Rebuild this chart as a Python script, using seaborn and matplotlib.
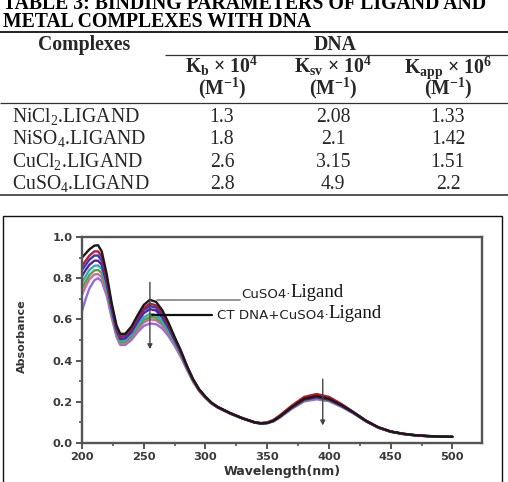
import matplotlib
matplotlib.use("Agg")
import matplotlib.pyplot as plt
import numpy as np
import pandas as pd
import seaborn as sns
from matplotlib.lines import Line2D
from matplotlib.patches import Rectangle
from matplotlib.ticker import MultipleLocator

# ---------------- table data ----------------
title_line1 = "TABLE 3: BINDING PARAMETERS OF LIGAND AND"
title_line2 = "METAL COMPLEXES WITH DNA"
complexes = ["NiCl$_2$.LIGAND", "NiSO$_4$.LIGAND", "CuCl$_2$.LIGAND", "CuSO$_4$.LIGAND"]
kb_vals = ["1.3", "1.8", "2.6", "2.8"]
ksv_vals = ["2.08", "2.1", "3.15", "4.9"]
kapp_vals = ["1.33", "1.42", "1.51", "2.2"]

# ---------------- spectra data ----------------
wavelength = [200, 203, 206, 210, 213, 216, 220, 224, 228, 231, 235, 240, 245, 250, 255,
              260, 265, 270, 275, 280, 285, 290, 295, 300, 305, 310, 320, 330, 340, 345,
              350, 355, 360, 370, 380, 390, 400, 410, 420, 430, 440, 450, 460, 470, 480,
              490, 500]
s1 = [0.90, 0.92, 0.94, 0.958, 0.96, 0.93, 0.82, 0.68, 0.57, 0.53, 0.53, 0.565, 0.62, 0.67, 0.695,
      0.685, 0.645, 0.585, 0.515, 0.45, 0.375, 0.31, 0.26, 0.225, 0.195, 0.175, 0.145, 0.12, 0.10, 0.095,
      0.097, 0.108, 0.128, 0.175, 0.215, 0.228, 0.215, 0.185, 0.148, 0.108, 0.076, 0.056, 0.045, 0.038, 0.034,
      0.031, 0.030]
s2 = [0.86, 0.885, 0.91, 0.93, 0.93, 0.905, 0.80, 0.67, 0.56, 0.52, 0.525, 0.555, 0.61, 0.655, 0.677,
      0.668, 0.632, 0.575, 0.51, 0.445, 0.372, 0.308, 0.258, 0.224, 0.195, 0.175, 0.146, 0.121, 0.101, 0.097,
      0.10, 0.112, 0.133, 0.182, 0.224, 0.238, 0.224, 0.19, 0.15, 0.109, 0.077, 0.056, 0.045, 0.038, 0.034,
      0.031, 0.030]
s3 = [0.84, 0.865, 0.89, 0.91, 0.91, 0.885, 0.79, 0.66, 0.555, 0.515, 0.518, 0.548, 0.60, 0.645, 0.665,
      0.657, 0.622, 0.568, 0.505, 0.442, 0.37, 0.306, 0.257, 0.223, 0.194, 0.174, 0.145, 0.12, 0.10, 0.096,
      0.099, 0.11, 0.13, 0.178, 0.218, 0.232, 0.219, 0.187, 0.149, 0.108, 0.076, 0.056, 0.045, 0.038, 0.034,
      0.031, 0.030]
s4 = [0.81, 0.84, 0.865, 0.885, 0.885, 0.865, 0.775, 0.65, 0.545, 0.505, 0.508, 0.538, 0.588, 0.63, 0.65,
      0.643, 0.61, 0.56, 0.50, 0.438, 0.368, 0.305, 0.256, 0.222, 0.193, 0.173, 0.144, 0.12, 0.099, 0.095,
      0.097, 0.107, 0.126, 0.172, 0.21, 0.222, 0.21, 0.181, 0.146, 0.106, 0.075, 0.055, 0.044, 0.037, 0.033,
      0.031, 0.030]
s5 = [0.78, 0.81, 0.84, 0.86, 0.862, 0.845, 0.76, 0.64, 0.538, 0.498, 0.50, 0.528, 0.573, 0.61, 0.627,
      0.622, 0.594, 0.548, 0.492, 0.433, 0.365, 0.303, 0.255, 0.221, 0.193, 0.173, 0.144, 0.12, 0.10, 0.096,
      0.098, 0.109, 0.129, 0.176, 0.214, 0.226, 0.214, 0.184, 0.147, 0.107, 0.075, 0.055, 0.044, 0.037, 0.033,
      0.031, 0.030]
s6 = [0.75, 0.785, 0.815, 0.838, 0.84, 0.825, 0.745, 0.63, 0.53, 0.49, 0.492, 0.518, 0.562, 0.597, 0.612,
      0.608, 0.582, 0.54, 0.486, 0.428, 0.362, 0.301, 0.254, 0.22, 0.192, 0.172, 0.143, 0.119, 0.099, 0.095,
      0.097, 0.106, 0.125, 0.17, 0.207, 0.218, 0.207, 0.179, 0.145, 0.106, 0.075, 0.055, 0.044, 0.037, 0.033,
      0.031, 0.030]
s7 = [0.72, 0.76, 0.795, 0.818, 0.82, 0.805, 0.73, 0.62, 0.522, 0.483, 0.484, 0.51, 0.552, 0.585, 0.60,
      0.596, 0.572, 0.532, 0.48, 0.424, 0.36, 0.30, 0.253, 0.219, 0.192, 0.172, 0.143, 0.119, 0.10, 0.096,
      0.098, 0.108, 0.127, 0.173, 0.211, 0.222, 0.21, 0.181, 0.146, 0.106, 0.075, 0.055, 0.044, 0.037, 0.033,
      0.031, 0.030]
s8 = [0.64, 0.70, 0.75, 0.79, 0.80, 0.785, 0.715, 0.61, 0.515, 0.476, 0.476, 0.50, 0.538, 0.568, 0.58,
      0.577, 0.556, 0.52, 0.472, 0.418, 0.356, 0.297, 0.251, 0.218, 0.191, 0.171, 0.142, 0.118, 0.098, 0.094,
      0.096, 0.104, 0.122, 0.166, 0.202, 0.212, 0.203, 0.176, 0.143, 0.105, 0.074, 0.054, 0.043, 0.037, 0.033,
      0.031, 0.030]
series_values = [s1, s2, s3, s4, s5, s6, s7, s8]
series_names = ["c1", "c2", "c3", "c4", "c5", "c6", "c7", "c8"]
series_colors = ["#1a1a1a", "#c01830", "#2a3ad0", "#5a1e98", "#2fb0b0", "#5aa040", "#e060a8", "#9070e0"]

xticks = [200, 250, 300, 350, 400, 450, 500]
yticks = [0.0, 0.2, 0.4, 0.6, 0.8, 1.0]
ylabel = "Absorbance"
xlabel = "Wavelength(nm)"

# ---------------- figure ----------------
sns.set_style("ticks")
plt.rcParams["font.family"] = ["DejaVu Sans"]
plt.rcParams["mathtext.fontset"] = "custom"
plt.rcParams["mathtext.rm"] = "Liberation Serif"
plt.rcParams["mathtext.it"] = "Liberation Serif:italic"
plt.rcParams["mathtext.bf"] = "Liberation Serif:bold"

W, H = 508, 482
fig = plt.figure(figsize=(W / 100, H / 100), dpi=100)
fig.patch.set_facecolor("white")


def fx(x):
    return x / W


def fy(y):
    return 1 - y / H


serif = "Liberation Serif"
tfs = 14.2

# title (first line is cut at the top edge, as in the source)
fig.text(fx(3), fy(9.3), title_line1, fontfamily=serif, fontweight="bold", fontsize=tfs,
         ha="left", va="baseline", color="black")
fig.text(fx(3), fy(26.7), title_line2, fontfamily=serif, fontweight="bold", fontsize=tfs,
         ha="left", va="baseline", color="black")


def hline(y, x0, x1, lw, color="#333333"):
    fig.add_artist(Line2D([fx(x0), fx(x1)], [fy(y), fy(y)], transform=fig.transFigure,
                          lw=lw, color=color, solid_capstyle="butt"))


hline(31.5, 0, W, 1.4, "#222222")
hline(55, 165, W, 0.9, "#333333")
hline(103, 0, W, 0.9, "#333333")
hline(195, 0, W, 1.4, "#555555")

# headers
fig.text(fx(84), fy(50), "Complexes", fontfamily=serif, fontweight="bold", fontsize=tfs,
         ha="center", va="baseline")
fig.text(fx(335), fy(50), "DNA", fontfamily=serif, fontweight="bold", fontsize=tfs,
         ha="center", va="baseline")
col_x = [222, 333, 448]
sub_hdr = [r"K$_\mathbf{b}$ × 10$^\mathbf{4}$", r"K$_\mathbf{sv}$ × 10$^\mathbf{4}$",
           r"K$_\mathbf{app}$ × 10$^\mathbf{6}$"]
for cx, h in zip(col_x, sub_hdr):
    fig.text(fx(cx), fy(72.7), h, fontfamily=serif, fontweight="bold", fontsize=tfs,
             ha="center", va="baseline")
    fig.text(fx(cx), fy(94.5), r"(M$^\mathbf{-1}$)", fontfamily=serif, fontweight="bold",
             fontsize=tfs, ha="center", va="baseline")

row_base = [121.7, 144.2, 166.6, 189.0]
for yb, name, a, b, c in zip(row_base, complexes, kb_vals, ksv_vals, kapp_vals):
    fig.text(fx(12), fy(yb), name, fontfamily=serif, fontsize=tfs, ha="left", va="baseline")
    for cx, v in zip(col_x, [a, b, c]):
        fig.text(fx(cx), fy(yb), v, fontfamily=serif, fontsize=tfs, ha="center", va="baseline")

# outer frame of the chart image
fig.add_artist(Rectangle((fx(3), fy(495)), (502 - 3) / W, (495 - 216) / H,
                         transform=fig.transFigure, fill=False, lw=1.0, ec="#111111",
                         clip_on=False))

# ---------------- chart ----------------
ax = fig.add_axes([fx(82), fy(443), (482 - 82) / W, (443 - 237) / H])
rows = []
for name, vals in zip(series_names, series_values):
    for w, v in zip(wavelength, vals):
        rows.append((name, w, v))
df = pd.DataFrame(rows, columns=["series", "wavelength", "absorbance"])

sns.lineplot(data=df, x="wavelength", y="absorbance", hue="series",
             hue_order=series_names[::-1], palette=dict(zip(series_names, series_colors)),
             legend=False, linewidth=1.7, estimator=None, errorbar=None, ax=ax)

ax.set_xlim(200, 524)
ax.set_ylim(0, 1.0)
ax.set_xticks(xticks)
ax.set_yticks(yticks)
ax.set_yticklabels([f"{t:.1f}" for t in yticks])
ax.xaxis.set_minor_locator(MultipleLocator(25))
ax.yaxis.set_minor_locator(MultipleLocator(0.1))
for sp in ax.spines.values():
    sp.set_visible(True)
    sp.set_color("#555555")
    sp.set_linewidth(1.7)
ax.tick_params(axis="both", which="major", direction="out", length=4, width=1.4,
               color="#555555", labelsize=8.2, labelcolor="#3a3a3a", pad=2.5)
ax.tick_params(axis="both", which="minor", direction="out", length=2.5, width=1.2,
               color="#555555")
for lab in ax.get_xticklabels() + ax.get_yticklabels():
    lab.set_fontweight("bold")
ax.set_xlabel(xlabel, fontsize=9, fontweight="bold", color="#333333")
ax.set_ylabel(ylabel, fontsize=8, fontweight="bold", color="#333333")
ax.xaxis.set_label_coords(0.5, (443 - 465) / 206)
ax.yaxis.set_label_coords((27 - 82) / 400, (443 - 336) / 206)
ax.set_facecolor("white")

# arrows
ax.annotate("", xy=(255, 0.455), xytext=(255, 0.78),
            arrowprops=dict(arrowstyle="-|>", color="#444444", lw=1.0, mutation_scale=7,
                            shrinkA=0, shrinkB=0))
ax.annotate("", xy=(395, 0.085), xytext=(395, 0.31),
            arrowprops=dict(arrowstyle="-|>", color="#444444", lw=1.0, mutation_scale=7,
                            shrinkA=0, shrinkB=0))

# label lines
ax.plot([261, 328], [0.694, 0.694], color="#8a8a8a", lw=1.3)
ax.plot([257, 305], [0.62, 0.62], color="#111111", lw=1.6)

t1 = ax.text(329, 0.703, "CuSO4·", fontfamily="DejaVu Sans", fontsize=9.6,
             color="#222222", ha="left", va="baseline")
ax.annotate("Ligand", xy=(1, 0), xycoords=t1, xytext=(0, 0), textcoords="offset points",
            fontfamily=serif, fontsize=13.5, color="#111111", ha="left", va="bottom")
t2 = ax.text(309, 0.603, "CT DNA+CuSO4·", fontfamily="DejaVu Sans", fontsize=9.6,
             color="#222222", ha="left", va="baseline")
ax.annotate("Ligand", xy=(1, 0), xycoords=t2, xytext=(0, 0), textcoords="offset points",
            fontfamily=serif, fontsize=13.5, color="#111111", ha="left", va="bottom")

fig.savefig("out.png", dpi=100, facecolor="white")
